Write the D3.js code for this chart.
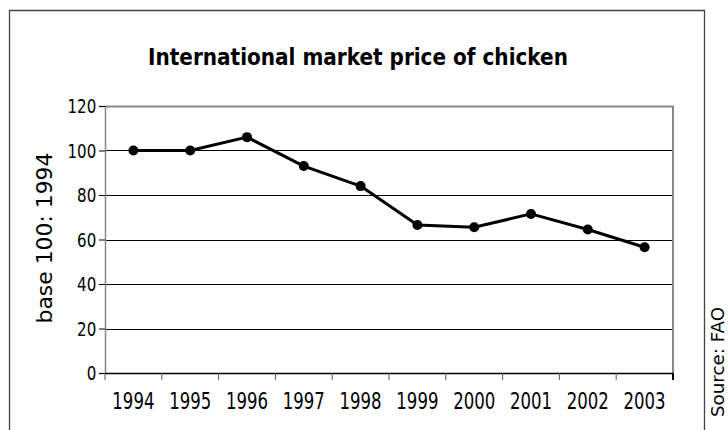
<!DOCTYPE html>
<html lang="en">
<head>
    <meta charset="UTF-8">
    <title>International market price of chicken</title>
    <script src="https://d3js.org/d3.v7.min.js"></script>
    <style>
        body {
            margin: 0;
            padding: 0;
            background: #fff;
        }
    </style>
</head>
<body>
<svg id="chart" width="728" height="430" xmlns="http://www.w3.org/2000/svg"></svg>
<script>
    var years = ['1994', '1995', '1996', '1997', '1998', '1999', '2000', '2001', '2002', '2003'];
    var prices = [100, 100, 106, 93, 84, 66.5, 65.5, 71.5, 64.5, 56.5];
    var yTicks = [0, 20, 40, 60, 80, 100, 120];

    (function () {
        var svg = d3.select('#chart');
        var margin = {left: 105, right: 728 - 673, top: 106, bottom: 430 - 373};
        var width = 728 - margin.left - margin.right;
        var height = 430 - margin.top - margin.bottom;

        // outer frame (bottom edge runs off the picture)
        svg.append('path')
            .attr('d', 'M9.5,440V10.5H704.5V440')
            .attr('fill', 'none')
            .attr('stroke', '#444')
            .attr('stroke-width', 1.3);

        var title = svg.append('text')
            .attr('x', 358)
            .attr('y', 65)
            .attr('text-anchor', 'middle')
            .attr('font-family', '"DejaVu Sans Condensed", "DejaVu Sans", sans-serif')
            .attr('font-weight', 'bold')
            .attr('font-size', 22)
            .attr('fill', '#000')
            .text('International market price of chicken');
        fitWidth(title, 420, 22);

        var x = d3.scaleBand().domain(years).range([0, width]);
        var y = d3.scaleLinear().domain([0, 120]).range([height, 0]);

        var g = svg.append('g')
            .attr('transform', 'translate(' + margin.left + ',' + margin.top + ')');

        // horizontal grid
        g.append('g')
            .selectAll('line')
            .data(yTicks.filter(function (d) { return d > 0 && d < 120; }))
            .join('line')
            .attr('x1', 0)
            .attr('x2', width)
            .attr('y1', function (d) { return Math.round(y(d)) + 0.5; })
            .attr('y2', function (d) { return Math.round(y(d)) + 0.5; })
            .attr('stroke', '#000')
            .attr('stroke-width', 1);

        // plot frame: top and right in grey
        g.append('path')
            .attr('d', 'M0,' + (Math.round(y(120)) + 0.5) + 'H' + width + 'V' + height)
            .attr('fill', 'none')
            .attr('stroke', '#888')
            .attr('stroke-width', 2);

        // y axis
        var yAxis = g.append('g')
            .call(d3.axisLeft(y).tickValues(yTicks).tickSize(6).tickPadding(4));
        yAxis.select('.domain').attr('stroke', '#888').attr('stroke-width', 1.5);
        yAxis.selectAll('.tick line').attr('stroke', '#000');
        yAxis.selectAll('.tick text')
            .attr('font-family', '"Liberation Sans Narrow", "DejaVu Sans Condensed", sans-serif')
            .attr('font-size', 19)
            .attr('fill', '#000')
            .attr('dy', '0.36em')
            .attr('transform', 'scale(0.88,1)');

        // x axis, ticks on band edges
        var xAxis = g.append('g')
            .attr('transform', 'translate(0,' + height + ')');
        xAxis.append('line')
            .attr('x1', 0)
            .attr('x2', width)
            .attr('y1', 0.5)
            .attr('y2', 0.5)
            .attr('stroke', '#000')
            .attr('stroke-width', 1.5);
        xAxis.selectAll('line.tick')
            .data(years.concat(['end']))
            .join('line')
            .attr('class', 'tick')
            .attr('x1', function (d, i) { return i === years.length ? width : x(d); })
            .attr('x2', function (d, i) { return i === years.length ? width : x(d); })
            .attr('y1', 0)
            .attr('y2', 7)
            .attr('stroke', function (d, i) { return i === years.length ? '#000' : '#555'; })
            .attr('stroke-width', function (d, i) { return i === years.length ? 2 : 1; });
        xAxis.selectAll('text')
            .data(years)
            .join('text')
            .attr('transform', function (d) {
                return 'translate(' + (x(d) + x.bandwidth() / 2) + ',36) scale(0.8,1)';
            })
            .attr('text-anchor', 'middle')
            .attr('font-family', '"Liberation Sans Narrow", "DejaVu Sans Condensed", sans-serif')
            .attr('font-size', 23)
            .attr('fill', '#000')
            .text(function (d) { return d; });

        // data line
        var line = d3.line()
            .x(function (d, i) { return x(years[i]) + x.bandwidth() / 2; })
            .y(function (d) { return y(d); });
        g.append('path')
            .datum(prices)
            .attr('d', line)
            .attr('fill', 'none')
            .attr('stroke', '#000')
            .attr('stroke-width', 3)
            .attr('stroke-linejoin', 'round');
        g.selectAll('circle')
            .data(prices)
            .join('circle')
            .attr('cx', function (d, i) { return x(years[i]) + x.bandwidth() / 2; })
            .attr('cy', function (d) { return y(d); })
            .attr('r', 5)
            .attr('fill', '#000');

        // y axis title
        var yTitle = svg.append('text')
            .attr('transform', 'translate(52,238) rotate(-90)')
            .attr('text-anchor', 'middle')
            .attr('font-family', '"DejaVu Sans", sans-serif')
            .attr('font-size', 20)
            .attr('fill', '#000')
            .text('base 100: 1994');
        fitWidth(yTitle, 171, 20);

        var source = svg.append('text')
            .attr('transform', 'translate(724,362) rotate(-90)')
            .attr('text-anchor', 'middle')
            .attr('font-family', '"DejaVu Sans", sans-serif')
            .attr('font-size', 15)
            .attr('fill', '#000')
            .text('Source: FAO');
        fitWidth(source, 110, 15);

        function fitWidth(sel, target, size) {
            var len = sel.node().getComputedTextLength();
            if (len > 0)
                sel.attr('font-size', (size * target / len).toFixed(2));
        }
    })();
</script>
</body>
</html>
